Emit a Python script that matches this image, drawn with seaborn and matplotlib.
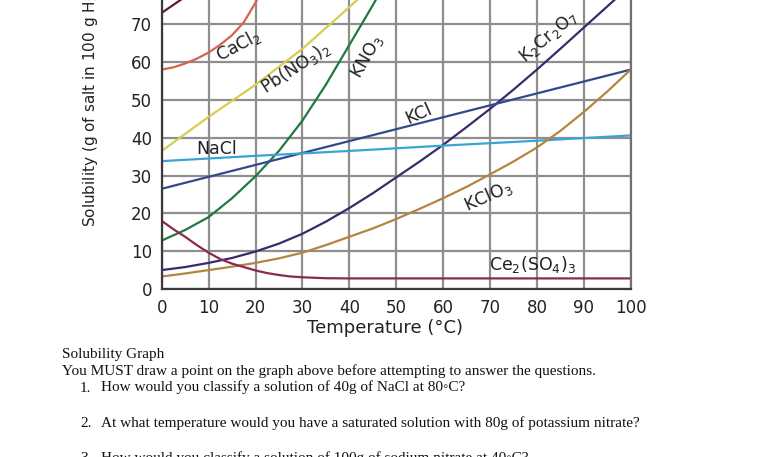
import numpy as np
import pandas as pd
import matplotlib
matplotlib.use("Agg")
import matplotlib.pyplot as plt
import seaborn as sns

# ---- data ----
nano3_t = [0, 10, 20]
nano3_v = [73, 81.5, 90]
cacl2_t = [0, 2.5, 5, 7.5, 10, 12.5, 15, 17.5, 20, 22.5]
cacl2_v = [58, 58.6, 59.6, 60.9, 62.5, 64.6, 67.1, 70.5, 75.7, 82]
pbno32_t = [0, 10, 20, 30, 40, 50]
pbno32_v = [36.5, 45.5, 54, 63.5, 74.5, 86]
kno3_t = [0, 5, 10, 15, 20, 25, 30, 35, 40, 45, 50]
kno3_v = [12.8, 15.6, 19, 24, 29.8, 36.5, 44.5, 54, 64.5, 75, 86]
k2cr2o7_t = [0, 5, 10, 15, 20, 25, 30, 35, 40, 45, 50, 55, 60, 65, 70, 75, 80, 85, 90, 95, 100]
k2cr2o7_v = [5, 5.8, 6.9, 8.2, 9.9, 12, 14.6, 17.8, 21.4, 25.3, 29.5, 33.7, 38.1, 42.8, 47.6,
             52.7, 58, 63.5, 69.1, 74.7, 80.3]
kcl_t = [0, 20, 40, 60, 80, 100]
kcl_v = [26.5, 32.8, 39.1, 45.4, 51.7, 58]
nacl_t = [0, 20, 40, 60, 80, 100]
nacl_v = [33.8, 35.2, 36.5, 37.9, 39.2, 40.6]
kclo3_t = [0, 5, 10, 15, 20, 25, 30, 35, 40, 45, 50, 55, 60, 65, 70, 75, 80, 85, 90, 95, 100]
kclo3_v = [3.3, 4.1, 5, 5.9, 6.9, 8.1, 9.6, 11.6, 13.8, 16, 18.5, 21.2, 24, 27, 30.3,
           33.7, 37.4, 41.8, 46.8, 52.2, 58]
ce2so43_t = [0, 2.5, 5, 7.5, 10, 12.5, 15, 17.5, 20, 22.5, 25, 27.5, 30, 35, 40, 100]
ce2so43_v = [18, 15.8, 13.8, 11.6, 9.6, 7.9, 6.7, 5.8, 4.9, 4.2, 3.7, 3.3, 3.1, 2.85, 2.8, 2.8]

x_ticks = [0, 10, 20, 30, 40, 50, 60, 70, 80, 90, 100]
y_ticks = [0, 10, 20, 30, 40, 50, 60, 70]

series = {
    "NaNO3": (nano3_t, nano3_v, "#5e1a3c"),
    "CaCl2": (cacl2_t, cacl2_v, "#d4654c"),
    "Pb(NO3)2": (pbno32_t, pbno32_v, "#d9cc52"),
    "KNO3": (kno3_t, kno3_v, "#1f7a3f"),
    "K2Cr2O7": (k2cr2o7_t, k2cr2o7_v, "#3b2a6b"),
    "KCl": (kcl_t, kcl_v, "#2e4c8c"),
    "NaCl": (nacl_t, nacl_v, "#3aa4d6"),
    "KClO3": (kclo3_t, kclo3_v, "#b5853f"),
    "Ce2(SO4)3": (ce2so43_t, ce2so43_v, "#8b2a4c"),
}

rows = []
for name, (ts, vs, _) in series.items():
    for t, v in zip(ts, vs):
        rows.append({"salt": name, "temp": t, "sol": v})
df = pd.DataFrame(rows)
palette = {name: c for name, (_, _, c) in series.items()}

sns.set_style("whitegrid")
plt.rcParams["font.family"] = ["DejaVu Sans"]
plt.rcParams["mathtext.default"] = "regular"

fig = plt.figure(figsize=(7.68, 4.57), dpi=100)
W, H = 768, 457
x0, x1, yb = 161.7, 630.7, 289
ax = fig.add_axes([x0 / W, (H - yb) / H, (x1 - x0) / W, yb / H])

sns.lineplot(data=df, x="temp", y="sol", hue="salt", palette=palette,
             estimator=None, legend=False, linewidth=1.6, ax=ax)
for ln in ax.lines:
    ln.set_solid_joinstyle("round")

ax.set_xlim(0, 100)
ax.set_ylim(0, 76.4)
ax.set_xticks(x_ticks)
ax.set_yticks(y_ticks)
ax.grid(True, color="#8e8e8e", linewidth=1.6)
ax.set_axisbelow(True)
for s in ["left", "bottom"]:
    ax.spines[s].set_color("#3a3a3a")
    ax.spines[s].set_linewidth(1.6)
ax.spines["right"].set_color("#707070")
ax.spines["right"].set_linewidth(1.6)
ax.spines["top"].set_visible(False)
ax.tick_params(length=0, labelsize=12, pad=7, colors="#222222")
ax.set_xlabel("")
ax.set_ylabel("")

fig.text(385 / W, 1 - 328 / H, "Temperature (°C)", ha="center", va="center",
         fontsize=13, color="#222222")
fig.text(90 / W, 1 - 227 / H, "Solubility (g of salt in 100 g H$_2$O)",
         rotation=90, ha="center", va="bottom", fontsize=11, color="#222222")

lab = dict(fontsize=12.5, color="#222222", ha="center", va="center",
           rotation_mode="anchor")
ax.text(16.3, 64.3, "CaCl$_2$", rotation=28, **lab)
ax.text(28.6, 58.5, "Pb(NO$_3$)$_2$", rotation=33, **lab)
ax.text(43.8, 61.3, "KNO$_3$", rotation=60, **lab)
ax.text(82.4, 66.7, "K$_2$Cr$_2$O$_7$", rotation=40, **lab)
ax.text(54.7, 46.2, "KCl", rotation=24, **lab)
ax.text(11.7, 37.1, "NaCl", rotation=0, **lab)
ax.text(69.5, 24.5, "KClO$_3$", rotation=24, **lab)
ax.text(79.1, 6.4, "Ce$_2$(SO$_4$)$_3$", rotation=0, **lab)

serif = dict(family=["Liberation Serif", "DejaVu Serif"], fontsize=11,
             color="#111111", va="baseline", ha="left")
fig.text(62 / W, 1 - 358 / H, "Solubility Graph", **serif)
fig.text(62 / W, 1 - 375 / H,
         "You MUST draw a point on the graph above before attempting to answer the questions.",
         **serif)
fig.text(80 / W, 1 - 391.5 / H, "1.", **serif)
fig.text(101 / W, 1 - 391.5 / H,
         "How would you classify a solution of 40g of NaCl at 80◦C?", **serif)
fig.text(80 / W, 1 - 427 / H, "2.", **serif)
fig.text(101 / W, 1 - 427 / H,
         "At what temperature would you have a saturated solution with 80g of potassium nitrate?",
         **serif)
fig.text(80 / W, 1 - 462 / H, "3.", **serif)
fig.text(101 / W, 1 - 462 / H,
         "How would you classify a solution of 100g of sodium nitrate at 40◦C?", **serif)

fig.savefig("out.png", dpi=100)
